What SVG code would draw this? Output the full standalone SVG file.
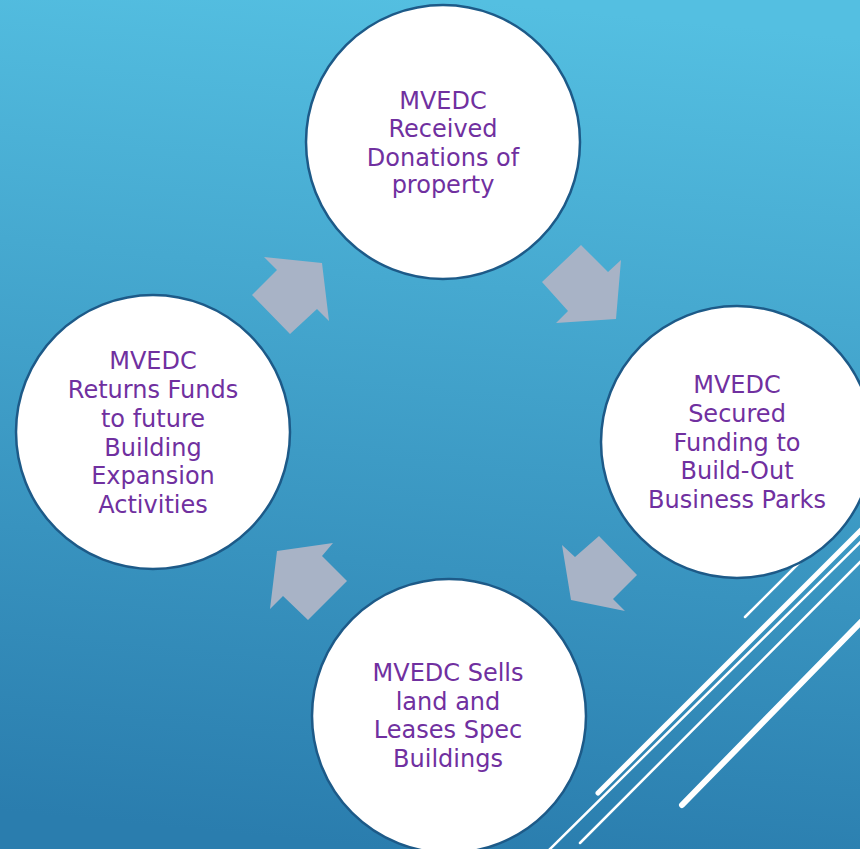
<svg xmlns="http://www.w3.org/2000/svg" width="860" height="849" viewBox="0 0 860 849">
  <defs>
    <linearGradient id="bg" x1="0.55" y1="0" x2="0.45" y2="1">
      <stop offset="0" stop-color="#54BFE1"/>
      <stop offset="1" stop-color="#2A7DAE"/>
    </linearGradient>
    <style>
      .node circle { fill: #FFFFFF; stroke: #1D5A88; stroke-width: 2.5; }
      .node text { font-family: "DejaVu Sans", "Noto Sans", sans-serif; font-size: 24px; fill: #7030A0; text-anchor: middle; }
      .arrow { fill: #A8B3C6; }
      .deco line { stroke: #FFFFFF; stroke-linecap: round; fill: none; }
    </style>
  </defs>

  <!-- background -->
  <rect x="0" y="0" width="860" height="849" fill="url(#bg)"/>

  <!-- decorative diagonal strokes, bottom right -->
  <g class="deco">
    <line x1="598" y1="793" x2="900" y2="491" stroke-width="5"/>
    <line x1="545" y1="854" x2="900" y2="503" stroke-width="2.5"/>
    <line x1="580" y1="843" x2="900" y2="522" stroke-width="2.5"/>
    <line x1="745" y1="617" x2="810" y2="552" stroke-width="2.5"/>
    <line x1="682" y1="805" x2="900" y2="582" stroke-width="6"/>
  </g>

  <!-- cycle arrows -->
  <g id="connectors">
    <polygon class="arrow" points="581,245 608,272 621,260 616,319 556,323 568,311 542,282"/>
    <polygon class="arrow" points="562,545 575,557 599,536 637,575 613,599 625,611 571,600"/>
    <polygon class="arrow" points="277,551 333,543 322,556 347,581 308,620 283,596 270,609"/>
    <polygon class="arrow" points="264,257 322,263 329,321 317,309 290,334 252,295 277,270"/>
  </g>

  <g id="node-donations" class="node">
    <circle cx="443" cy="142" r="137"/>
    <text x="443" y="109">MVEDC</text>
    <text x="443" y="137">Received</text>
    <text x="443" y="166">Donations of</text>
    <text x="443" y="193">property</text>
  </g>

  <g id="node-funding" class="node">
    <circle cx="737" cy="442" r="136"/>
    <text x="737" y="393">MVEDC</text>
    <text x="737" y="422">Secured</text>
    <text x="737" y="451">Funding to</text>
    <text x="737" y="479">Build-Out</text>
    <text x="737" y="508">Business Parks</text>
  </g>

  <g id="node-sells" class="node">
    <circle cx="449" cy="716" r="137"/>
    <text x="448" y="681">MVEDC Sells</text>
    <text x="448" y="710">land and</text>
    <text x="448" y="738">Leases Spec</text>
    <text x="448" y="767">Buildings</text>
  </g>

  <g id="node-returns" class="node">
    <circle cx="153" cy="432" r="137"/>
    <text x="153" y="369">MVEDC</text>
    <text x="153" y="398">Returns Funds</text>
    <text x="153" y="427">to future</text>
    <text x="153" y="456">Building</text>
    <text x="153" y="484">Expansion</text>
    <text x="153" y="513">Activities</text>
  </g>
</svg>
